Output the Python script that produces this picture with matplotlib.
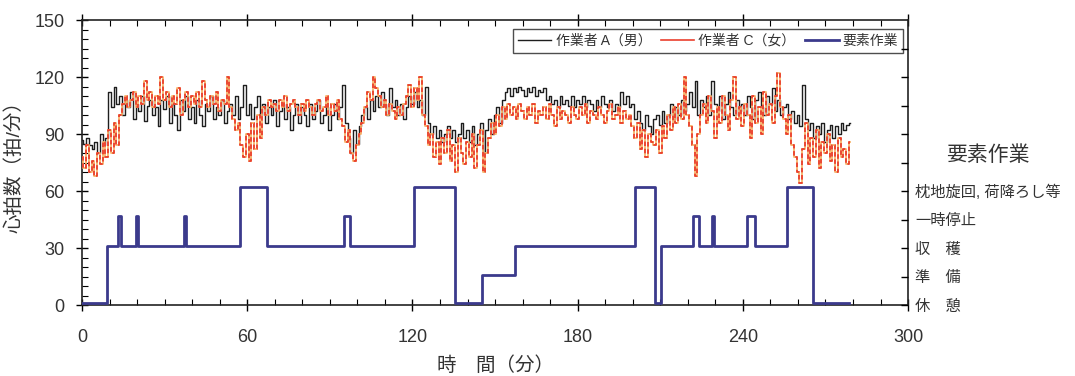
import numpy as np
import matplotlib.pyplot as plt
from matplotlib.ticker import MultipleLocator, FixedLocator

plt.rcParams['font.family'] = ['Liberation Sans', 'Noto Sans CJK JP', 'DejaVu Sans']

# heart rate, one value per minute (beats/min)
hr_a = [87, 85, 88, 84, 82, 86, 80, 90, 84, 88, 112, 104, 115, 106, 110, 100, 108, 104, 112, 98,
        106, 102, 110, 97, 105, 108, 100, 104, 94, 108, 103, 110, 96, 106, 100, 92, 108, 102, 110, 98,
        104, 96, 108, 100, 94, 106, 102, 110, 98, 104, 100, 108, 96, 102, 106, 100, 110, 98, 104, 116,
        100, 106, 98, 104, 110, 100, 106, 96, 104, 100, 108, 94, 102, 106, 98, 104, 92, 100, 106, 96,
        104, 100, 94, 106, 98, 102, 108, 96, 100, 104, 92, 100, 106, 98, 104, 116, 96, 88, 80, 92,
        85, 94, 100, 104, 98, 108, 102, 110, 104, 112, 106, 100, 114, 104, 108, 100, 106, 98, 104, 110,
        106, 112, 104, 108, 100, 115, 96, 90, 94, 88, 92, 86, 90, 94, 88, 92, 86, 90, 96, 88,
        92, 86, 94, 84, 90, 96, 80, 92, 98, 90, 100, 104, 96, 108, 112, 114, 110, 114, 112, 115,
        113, 110, 114, 112, 115, 110, 113, 112, 114, 108, 110, 106, 108, 104, 110, 106, 108, 105, 110, 104,
        108, 106, 110, 104, 108, 106, 102, 108, 104, 110, 106, 104, 108, 102, 106, 104, 112, 106, 110, 104,
        106, 98, 102, 96, 92, 100, 94, 90, 98, 100, 95, 102, 96, 100, 106, 98, 104, 100, 108, 102,
        106, 112, 104, 118, 100, 108, 104, 110, 100, 118, 106, 102, 110, 98, 106, 112, 104, 100, 108, 102,
        106, 100, 110, 104, 98, 108, 112, 104, 100, 110, 106, 114, 102, 108, 100, 104, 106, 98, 102, 96,
        100, 94, 116, 98, 92, 96, 88, 94, 90, 96, 86, 92, 95, 88, 94, 90, 96, 92, 95, 96]

hr_c = [78, 72, 84, 70, 76, 68, 80, 74, 86, 78, 92, 80, 96, 84, 100, 106, 110, 104, 108, 112,
        104, 110, 106, 118, 108, 112, 104, 110, 106, 120, 108, 112, 104, 110, 106, 114, 100, 108, 112, 104,
        110, 106, 112, 104, 118, 108, 104, 110, 106, 112, 102, 108, 106, 120, 104, 98, 92, 96, 84, 78,
        90, 76, 96, 82, 100, 88, 104, 100, 108, 104, 106, 102, 108, 104, 110, 102, 106, 108, 104, 100,
        106, 102, 108, 104, 100, 106, 108, 102, 104, 110, 100, 106, 102, 108, 98, 94, 86, 92, 80, 76,
        84, 90, 96, 104, 112, 108, 120, 114, 110, 104, 108, 100, 106, 102, 98, 104, 100, 106, 110, 116,
        104, 114, 108, 120, 100, 94, 84, 90, 78, 86, 74, 88, 80, 92, 76, 84, 70, 88, 80, 74,
        86, 78, 90, 72, 84, 92, 70, 80, 88, 96, 90, 100, 94, 104, 98, 106, 100, 104, 98, 106,
        102, 98, 104, 100, 106, 96, 102, 100, 104, 98, 106, 100, 94, 104, 98, 102, 100, 96, 104, 100,
        98, 104, 100, 106, 96, 102, 100, 98, 104, 100, 96, 102, 106, 98, 100, 104, 96, 102, 98, 100,
        94, 88, 96, 82, 92, 78, 90, 86, 84, 92, 80, 94, 88, 100, 92, 104, 96, 106, 98, 120,
        100, 94, 84, 68, 90, 100, 106, 96, 110, 102, 88, 104, 96, 110, 100, 92, 108, 120, 98, 104,
        94, 106, 100, 88, 110, 96, 104, 90, 112, 100, 106, 96, 110, 122, 104, 98, 90, 100, 84, 78,
        70, 64, 82, 96, 74, 88, 78, 92, 72, 86, 80, 90, 76, 84, 70, 88, 78, 82, 74, 86]

minutes = np.arange(len(hr_a))

# element work (step changes): start time (min) and level
elem_t = [0, 9.2, 13.2, 14.0, 19.5, 20.2, 37.2, 37.9, 57.5, 67.1, 95.0, 97.2, 120.6, 135.5,
          145.2, 157.3, 200.9, 208.1, 210.2, 221.8, 224.2, 228.8, 229.5, 241.4, 244.5,
          256.2, 265.6, 278.4]
elem_v = [1, 31, 47, 31, 47, 31, 47, 31, 62, 31, 47, 31, 62, 1,
          16, 31, 62, 1, 31, 47, 31, 47, 31, 47, 31,
          62, 1, 1]

elem_ticks = [0, 15, 30, 45, 60]
elem_names = ['休\u3000憩', '準\u3000備', '収\u3000穫', '一時停止', '枕地旋回, 荷降ろし等']

txt = '#333333'

fig = plt.figure(figsize=(10.75, 3.76), dpi=100)
ax = fig.add_axes([0.0763, 0.1888, 0.7684, 0.758])

ax.plot(minutes, hr_a, color='#1e1e1e', lw=1.0, drawstyle='steps-mid',
        label='作業者 A（男）', zorder=2)
ax.plot(minutes, hr_c, color='#f6b46a', lw=1.3, drawstyle='steps-mid', zorder=3)
ax.plot(minutes, hr_c, color='#ea3f2e', lw=1.3, drawstyle='steps-mid',
        dashes=(2.5, 1.5), zorder=4)
ax.plot([], [], color='#ea3f2e', lw=1.2, label='作業者 C（女）')
ax.plot(elem_t, elem_v, color='#3b3a8c', lw=2.0, drawstyle='steps-post',
        label='要素作業', zorder=5)

ax.set_xlim(0, 300)
ax.set_ylim(0, 150)
ax.xaxis.set_major_locator(MultipleLocator(60))
ax.xaxis.set_minor_locator(MultipleLocator(10))
ax.yaxis.set_major_locator(MultipleLocator(30))
ax.yaxis.set_minor_locator(MultipleLocator(5))
ax.tick_params(which='major', direction='inout', length=9, width=1.0,
               top=True, right=True, labelsize=13, labelcolor=txt)
ax.tick_params(which='minor', direction='in', length=4, width=0.8, top=True)
ax.tick_params(axis='x', which='major', pad=13)
ax.tick_params(axis='y', which='major', pad=8)
for s in ax.spines.values():
    s.set_linewidth(1.2)
    s.set_color('#222222')

ax.set_xlabel('時\u3000間（分）', fontsize=14, color=txt, labelpad=7)
ax.set_ylabel('心拍数（拍/分）', fontsize=14, color=txt, labelpad=8)

ax2 = ax.twinx()
ax2.set_ylim(0, 150)
ax2.yaxis.set_major_locator(FixedLocator(elem_ticks))
ax2.set_yticklabels(elem_names)
ax2.yaxis.set_minor_locator(FixedLocator([75, 90, 105, 120, 135]))
ax2.tick_params(which='both', direction='in', length=5, width=1.0,
                labelsize=11, labelcolor=txt, pad=5)
for s in ax2.spines.values():
    s.set_visible(False)

fig.text(0.919, 0.588, '要素作業', fontsize=15, color=txt, ha='center', va='center')

leg = ax.legend(loc='upper right', bbox_to_anchor=(0.994, 0.968), ncol=3,
                fontsize=10, frameon=True, fancybox=False, borderaxespad=0,
                handlelength=2.4, handletextpad=0.3, columnspacing=0.7,
                borderpad=0.35, labelcolor=txt)
leg.get_frame().set_edgecolor('#222222')
leg.get_frame().set_linewidth(1.0)

plt.savefig('out.png', dpi=100)
